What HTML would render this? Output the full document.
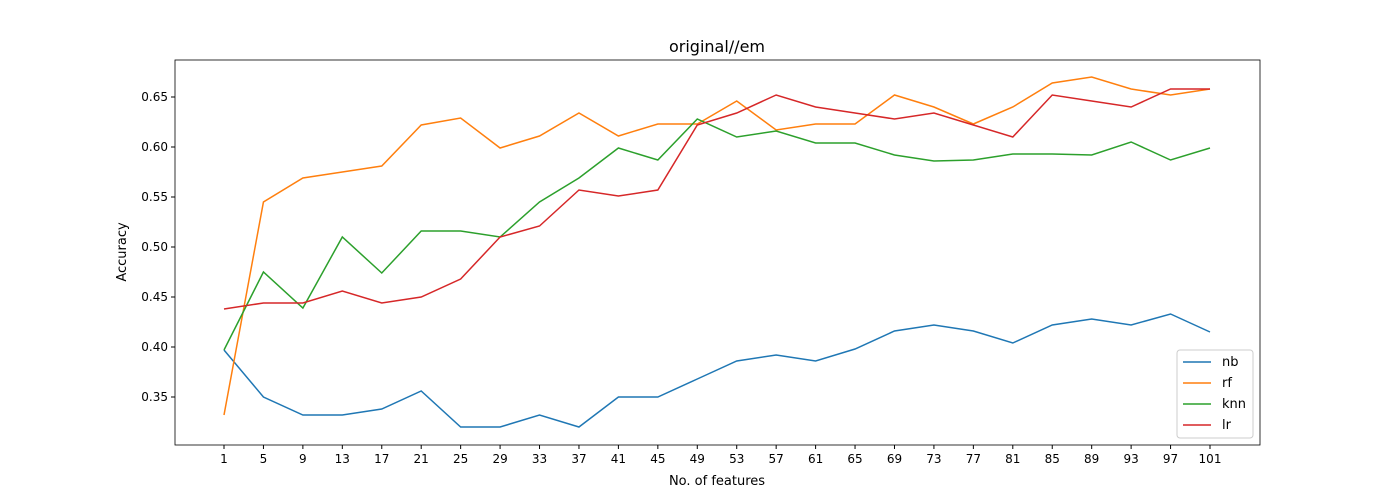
<!DOCTYPE html>
<html><head><meta charset="utf-8"><style>
body{margin:0;background:#fff;font-family:"DejaVu Sans","Liberation Sans",sans-serif}
svg text{font-family:"DejaVu Sans","Liberation Sans",sans-serif;fill:#000}
</style></head><body>
<svg id="chart" width="1400" height="500" xmlns="http://www.w3.org/2000/svg">
<rect width="1400" height="500" fill="#fff"/>
<text x="717" y="52" font-size="16" text-anchor="middle">original//em</text>
<text x="717" y="485" font-size="13" text-anchor="middle">No. of features</text>
<text x="0" y="0" font-size="13" text-anchor="middle" transform="translate(126,252) rotate(-90)">Accuracy</text>
<g id="plot"></g>
</svg>
<script>
const categories=[1,5,9,13,17,21,25,29,33,37,41,45,49,53,57,61,65,69,73,77,81,85,89,93,97,101];
const yTicks=[0.35,0.40,0.45,0.50,0.55,0.60,0.65];
const nb=[0.397,0.350,0.332,0.332,0.338,0.356,0.320,0.320,0.332,0.320,0.350,0.350,0.368,0.386,0.392,0.386,0.398,0.416,0.422,0.416,0.404,0.422,0.428,0.422,0.433,0.415];
const rf=[0.332,0.545,0.569,0.575,0.581,0.622,0.629,0.599,0.611,0.634,0.611,0.623,0.623,0.646,0.617,0.623,0.623,0.652,0.640,0.623,0.640,0.664,0.670,0.658,0.652,0.658];
const knn=[0.397,0.475,0.439,0.510,0.474,0.516,0.516,0.510,0.545,0.569,0.599,0.587,0.628,0.610,0.616,0.604,0.604,0.592,0.586,0.587,0.593,0.593,0.592,0.605,0.587,0.599];
const lr=[0.438,0.444,0.444,0.456,0.444,0.450,0.468,0.510,0.521,0.557,0.551,0.557,0.622,0.634,0.652,0.640,0.634,0.628,0.634,0.622,0.610,0.652,0.646,0.640,0.658,0.658];
const NS='http://www.w3.org/2000/svg';
const L=175,R=1260,T=60,B=445;
const xMin=categories[0],xMax=categories[categories.length-1];
const x=v=>224+(v-xMin)/(xMax-xMin)*986;
const y=v=>397-(v-0.35)*1000;
const g=document.getElementById('plot');
function mk(tag,attrs){const e=document.createElementNS(NS,tag);for(const k in attrs)e.setAttribute(k,attrs[k]);g.appendChild(e);return e;}
categories.forEach(c=>{
  const t=mk('line',{x1:x(c),x2:x(c),y1:B,y2:B+4,stroke:'#000'});
  
  
  const l=mk('text',{x:x(c),y:B+18,'font-size':12,'text-anchor':'middle'});l.textContent=c;
  
  
});
yTicks.forEach(v=>{
  const t=mk('line',{x1:L-4,x2:L,y1:y(v),y2:y(v),stroke:'#000'});
  
  
  const l=mk('text',{x:L-7,y:y(v)+4,'font-size':12,'text-anchor':'end'});l.textContent=v.toFixed(2);
  
  
});
const series=[['nb',nb,'#1f77b4'],['rf',rf,'#ff7f0e'],['knn',knn,'#2ca02c'],['lr',lr,'#d62728']];
series.forEach(([n,d,c])=>{
  const p=mk('polyline',{points:d.map((v,i)=>x(categories[i])+','+y(v)).join(' '),fill:'none',stroke:c,'stroke-width':1.5});
  
  
});
const f=mk('rect',{x:L,y:T,width:R-L,height:B-T,fill:'none',stroke:'#000','stroke-width':0.8});


const lg=mk('rect',{x:1177,y:350,width:76,height:88,fill:'#fff',stroke:'#ccc',rx:3});


series.forEach(([n,d,c],i)=>{
  const yy=362+i*21;
  const ln=mk('line',{x1:1183,x2:1211,y1:yy,y2:yy,stroke:c,'stroke-width':1.5});
  
  
  const t=mk('text',{x:1222,y:yy+4,'font-size':13});t.textContent=n;
  
  
});
</script>
</body></html>
